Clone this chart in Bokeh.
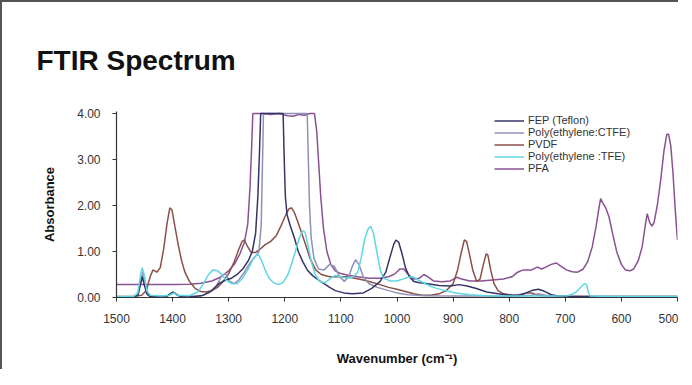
from bokeh.plotting import figure
from bokeh.models import (Range1d, FixedTicker, NumeralTickFormatter, Legend, LegendItem)
from bokeh.embed import file_html
from bokeh.resources import INLINE

# ---------------- data ----------------
series_names = ["FEP (Teflon)", "Poly(ethylene:CTFE)", "PVDF", "Poly(ethylene :TFE)", "PFA"]
series_colors = ["#35356a", "#9090b6", "#8a5048", "#5fd6e4", "#8a5094"]

fep_wn = [1500, 1470, 1462, 1457, 1454, 1451, 1446, 1440, 1412, 1404, 1399, 1393, 1385, 1360, 1345, 1330,
          1318, 1305, 1295, 1285, 1275, 1265, 1258, 1252, 1248, 1245, 1243, 1230, 1215, 1203, 1201, 1199,
          1196, 1190, 1183, 1176, 1168, 1160, 1150, 1140, 1130, 1120, 1110, 1095, 1080, 1060, 1045, 1030,
          1020, 1012, 1006, 1002, 997, 991, 985, 978, 970, 960, 945, 925, 905, 890, 875, 860, 840, 820,
          800, 785, 770, 758, 748, 738, 725, 710, 690, 650, 600, 500]
fep_abs = [0.0, 0.0, 0.05, 0.3, 0.45, 0.3, 0.08, 0.02, 0.02, 0.08, 0.12, 0.06, 0.02, 0.02, 0.05, 0.15,
           0.3, 0.38, 0.42, 0.5, 0.62, 0.8, 1.0, 1.4, 2.2, 3.2, 4.0, 4.0, 4.0, 4.0, 3.0, 2.2,
           1.8, 1.55, 1.3, 1.0, 0.78, 0.6, 0.47, 0.38, 0.3, 0.22, 0.15, 0.1, 0.08, 0.1, 0.2, 0.35,
           0.55, 0.9, 1.15, 1.25, 1.2, 0.95, 0.65, 0.45, 0.35, 0.32, 0.3, 0.26, 0.25, 0.28, 0.25, 0.2, 0.12, 0.08,
           0.05, 0.05, 0.1, 0.16, 0.18, 0.14, 0.06, 0.03, 0.02, 0.02, 0.02, 0.02]

ctfe_wn = [1500, 1470, 1461, 1456, 1453, 1449, 1444, 1435, 1410, 1402, 1396, 1388, 1370, 1350, 1335, 1322,
           1312, 1306, 1298, 1290, 1282, 1272, 1262, 1252, 1246, 1242, 1240, 1238, 1220, 1200, 1180, 1165,
           1160, 1158, 1156, 1153, 1148, 1140, 1130, 1120, 1112, 1102, 1094, 1086, 1079, 1074, 1068, 1060,
           1050, 1035, 1015, 1000, 980, 950, 900, 850, 800, 760, 748, 735, 720, 650, 500]
ctfe_abs = [0.0, 0.0, 0.08, 0.4, 0.55, 0.3, 0.06, 0.02, 0.02, 0.1, 0.1, 0.03, 0.02, 0.03, 0.1, 0.25,
            0.48, 0.52, 0.35, 0.3, 0.38, 0.55, 0.75, 0.9, 1.0, 1.6, 2.8, 4.0, 4.0, 4.0, 4.0, 4.0,
            4.0, 3.0, 2.0, 1.3, 0.85, 0.62, 0.6, 0.72, 0.68, 0.45, 0.35, 0.45, 0.7, 0.82, 0.72, 0.45,
            0.3, 0.22, 0.15, 0.1, 0.06, 0.04, 0.03, 0.03, 0.02, 0.05, 0.08, 0.05, 0.02, 0.02, 0.02]

pvdf_wn = [1500, 1470, 1455, 1447, 1440, 1435, 1428, 1422, 1416, 1410, 1405, 1401, 1396, 1390, 1384, 1378,
           1370, 1360, 1350, 1340, 1330, 1320, 1310, 1300, 1290, 1282, 1276, 1272, 1267, 1260, 1252, 1244,
           1235, 1225, 1215, 1207, 1200, 1193, 1188, 1183, 1177, 1170, 1163, 1155, 1145, 1135, 1120, 1105,
           1090, 1075, 1060, 1045, 1030, 1015, 1000, 985, 970, 955, 940, 925, 912, 900, 892, 885, 880, 876,
           871, 865, 858, 852, 846, 841, 838, 833, 827, 820, 810, 795, 780, 768, 760, 750, 730, 700, 680,
           660, 655]
pvdf_abs = [0.02, 0.02, 0.05, 0.15, 0.45, 0.6, 0.55, 0.65, 1.05, 1.6, 1.95, 1.9, 1.55, 1.15, 0.8, 0.55,
            0.35, 0.2, 0.13, 0.12, 0.15, 0.22, 0.35, 0.52, 0.78, 1.05, 1.22, 1.25, 1.12, 0.98, 0.98, 1.05,
            1.15, 1.22, 1.35, 1.55, 1.75, 1.92, 1.95, 1.85, 1.65, 1.4, 1.15, 0.85, 0.6, 0.5, 0.45, 0.45,
            0.45, 0.42, 0.38, 0.33, 0.28, 0.22, 0.18, 0.13, 0.08, 0.05, 0.05, 0.08, 0.15, 0.3, 0.6, 1.0, 1.25, 1.22,
            0.95, 0.6, 0.35, 0.4, 0.72, 0.95, 0.92, 0.6, 0.3, 0.15, 0.08, 0.05, 0.05, 0.1, 0.1, 0.05, 0.03, 0.02, 0.02,
            0.02, 0.02]

etfe_wn = [1500, 1470, 1462, 1457, 1454, 1450, 1446, 1440, 1420, 1405, 1398, 1392, 1370, 1355, 1345, 1336,
           1328, 1320, 1312, 1305, 1295, 1285, 1275, 1265, 1256, 1248, 1242, 1235, 1228, 1220, 1211, 1203,
           1195, 1188, 1180, 1174, 1168, 1164, 1159, 1153, 1146, 1138, 1128, 1118, 1110, 1100, 1088, 1078,
           1070, 1064, 1058, 1052, 1047, 1042, 1036, 1030, 1024, 1012, 1000, 990, 980, 972, 962, 950, 935,
           915, 895, 870, 840, 800, 760, 720, 695, 686, 678, 671, 666, 662, 659, 656, 620, 560, 500]
etfe_abs = [0.02, 0.02, 0.1, 0.5, 0.65, 0.45, 0.15, 0.05, 0.03, 0.05, 0.1, 0.05, 0.04, 0.12, 0.3, 0.5,
            0.6, 0.58, 0.5, 0.38, 0.3, 0.3, 0.42, 0.62, 0.85, 0.95, 0.82, 0.6, 0.42, 0.32, 0.28, 0.33,
            0.48, 0.72, 1.05, 1.3, 1.45, 1.42, 1.15, 0.8, 0.5, 0.35, 0.32, 0.42, 0.48, 0.45, 0.42, 0.45,
            0.55, 0.85, 1.25, 1.48, 1.55, 1.4, 1.0, 0.6, 0.42, 0.36, 0.36, 0.4, 0.44, 0.45, 0.38, 0.3, 0.22,
            0.15, 0.1, 0.06, 0.04, 0.03, 0.03, 0.03, 0.04, 0.08, 0.15, 0.24, 0.3, 0.28, 0.12, 0.03, 0.02, 0.02, 0.02]

pfa_wn = [1500, 1450, 1400, 1370, 1350, 1330, 1315, 1300, 1290, 1280, 1272, 1266, 1262, 1259, 1257, 1240,
          1225, 1210, 1195, 1185, 1175, 1165, 1155, 1147, 1143, 1140, 1136, 1131, 1125, 1118, 1110, 1100,
          1085, 1070, 1050, 1030, 1015, 1003, 995, 988, 980, 970, 960, 952, 945, 935, 920, 905, 893, 885,
          870, 850, 830, 810, 795, 785, 775, 760, 750, 742, 735, 725, 716, 708, 698, 688, 678, 668, 660,
          652, 645, 640, 637, 633, 628, 622, 615, 608, 600, 593, 585, 578, 570, 563, 557, 554, 550, 546,
          542, 536, 530, 524, 519, 516, 512, 508, 504, 501, 500]
pfa_abs = [0.28, 0.28, 0.28, 0.29, 0.31, 0.36, 0.44, 0.58, 0.72, 0.95, 1.2, 1.6, 2.4, 3.3, 4.0, 4.0,
           3.98, 4.0, 3.95, 3.94, 3.98, 3.96, 4.0, 4.0, 3.6, 3.0, 2.2, 1.5, 1.0, 0.72, 0.58, 0.52,
           0.48, 0.45, 0.42, 0.42, 0.45, 0.52, 0.62, 0.62, 0.5, 0.4, 0.42, 0.5, 0.45, 0.36, 0.34, 0.36, 0.44, 0.4,
           0.36, 0.36, 0.38, 0.4, 0.45, 0.55, 0.6, 0.6, 0.66, 0.62, 0.66, 0.72, 0.75, 0.68, 0.6, 0.56, 0.55, 0.62, 0.78,
           1.1, 1.55, 1.95, 2.15, 2.05, 1.95, 1.75, 1.35, 0.98, 0.72, 0.6, 0.58, 0.62, 0.8, 1.1, 1.6, 1.82, 1.65, 1.55,
           1.62, 2.0, 2.55, 3.2, 3.55, 3.55, 3.3, 2.7, 1.9, 1.4, 1.25]

x_ticks = [1500, 1400, 1300, 1200, 1100, 1000, 900, 800, 700, 600, 500]
y_ticks = [0, 1, 2, 3, 4]

# ---------------- figure ----------------
p = figure(frame_width=561, frame_height=186,
           min_border_left=114, min_border_right=1, min_border_top=109, min_border_bottom=72,
           x_range=Range1d(1500, 500), y_range=Range1d(0, 4.043),
           output_backend="svg", toolbar_location=None)
p.styles = {"border-left": "2px solid #555555", "border-top": "2px solid #555555"}
p.outline_line_color = None
p.xgrid.visible = False
p.ygrid.visible = False
p.background_fill_color = "white"
p.border_fill_color = "white"

p.title.text = "FTIR Spectrum"
p.title.align = "left"
p.title.offset = -80
p.title.standoff = 72
p.title.text_font = "Liberation Sans"
p.title.text_font_style = "bold"
p.title.text_font_size = "28px"
p.title.text_color = "#111111"

renderers = []
for wn, ab, col in [(pfa_wn, pfa_abs, series_colors[4]),
                    (pvdf_wn, pvdf_abs, series_colors[2]),
                    (ctfe_wn, ctfe_abs, series_colors[1]),
                    (fep_wn, fep_abs, series_colors[0]),
                    (etfe_wn, etfe_abs, series_colors[3])]:
    renderers.append(p.line(wn, ab, line_color=col, line_width=1.5))
r_pfa, r_pvdf, r_ctfe, r_fep, r_etfe = renderers

legend = Legend(items=[LegendItem(label=series_names[0], renderers=[r_fep]),
                       LegendItem(label=series_names[1], renderers=[r_ctfe]),
                       LegendItem(label=series_names[2], renderers=[r_pvdf]),
                       LegendItem(label=series_names[3], renderers=[r_etfe]),
                       LegendItem(label=series_names[4], renderers=[r_pfa])],
                location=(378, 123), orientation="vertical",
                padding=0, margin=0, spacing=0, glyph_width=30, glyph_height=11,
                label_height=11, label_standoff=4,
                label_text_font="Liberation Sans", label_text_font_size="11px",
                label_text_color="#333333",
                background_fill_alpha=0, border_line_color=None)
p.add_layout(legend, "center")

for ax in (p.xaxis[0], p.yaxis[0]):
    ax.axis_line_color = "#333333"
    ax.axis_line_width = 1.2
    ax.major_tick_line_color = "#333333"
    ax.major_tick_out = 4
    ax.major_tick_in = 0
    ax.minor_tick_line_color = None
    ax.major_label_text_font = "Liberation Sans"
    ax.major_label_text_font_size = "12px"
    ax.major_label_text_color = "#333333"
    ax.axis_label_text_font = "Liberation Sans"
    ax.axis_label_text_font_style = "bold"
    ax.axis_label_text_font_size = "13px"
    ax.axis_label_text_color = "#111111"

p.xaxis[0].ticker = FixedTicker(ticks=x_ticks)
p.yaxis[0].ticker = FixedTicker(ticks=y_ticks)
p.yaxis[0].formatter = NumeralTickFormatter(format="0.00")
p.xaxis[0].axis_label = "Wavenumber (cm\u207b\u00b9)"
p.yaxis[0].axis_label = "Absorbance"
p.yaxis[0].major_label_standoff = 12
p.xaxis[0].major_label_standoff = 12
p.yaxis[0].axis_label_standoff = 17
p.xaxis[0].axis_label_standoff = 25

open("out.html", "w").write(file_html(p, INLINE))
